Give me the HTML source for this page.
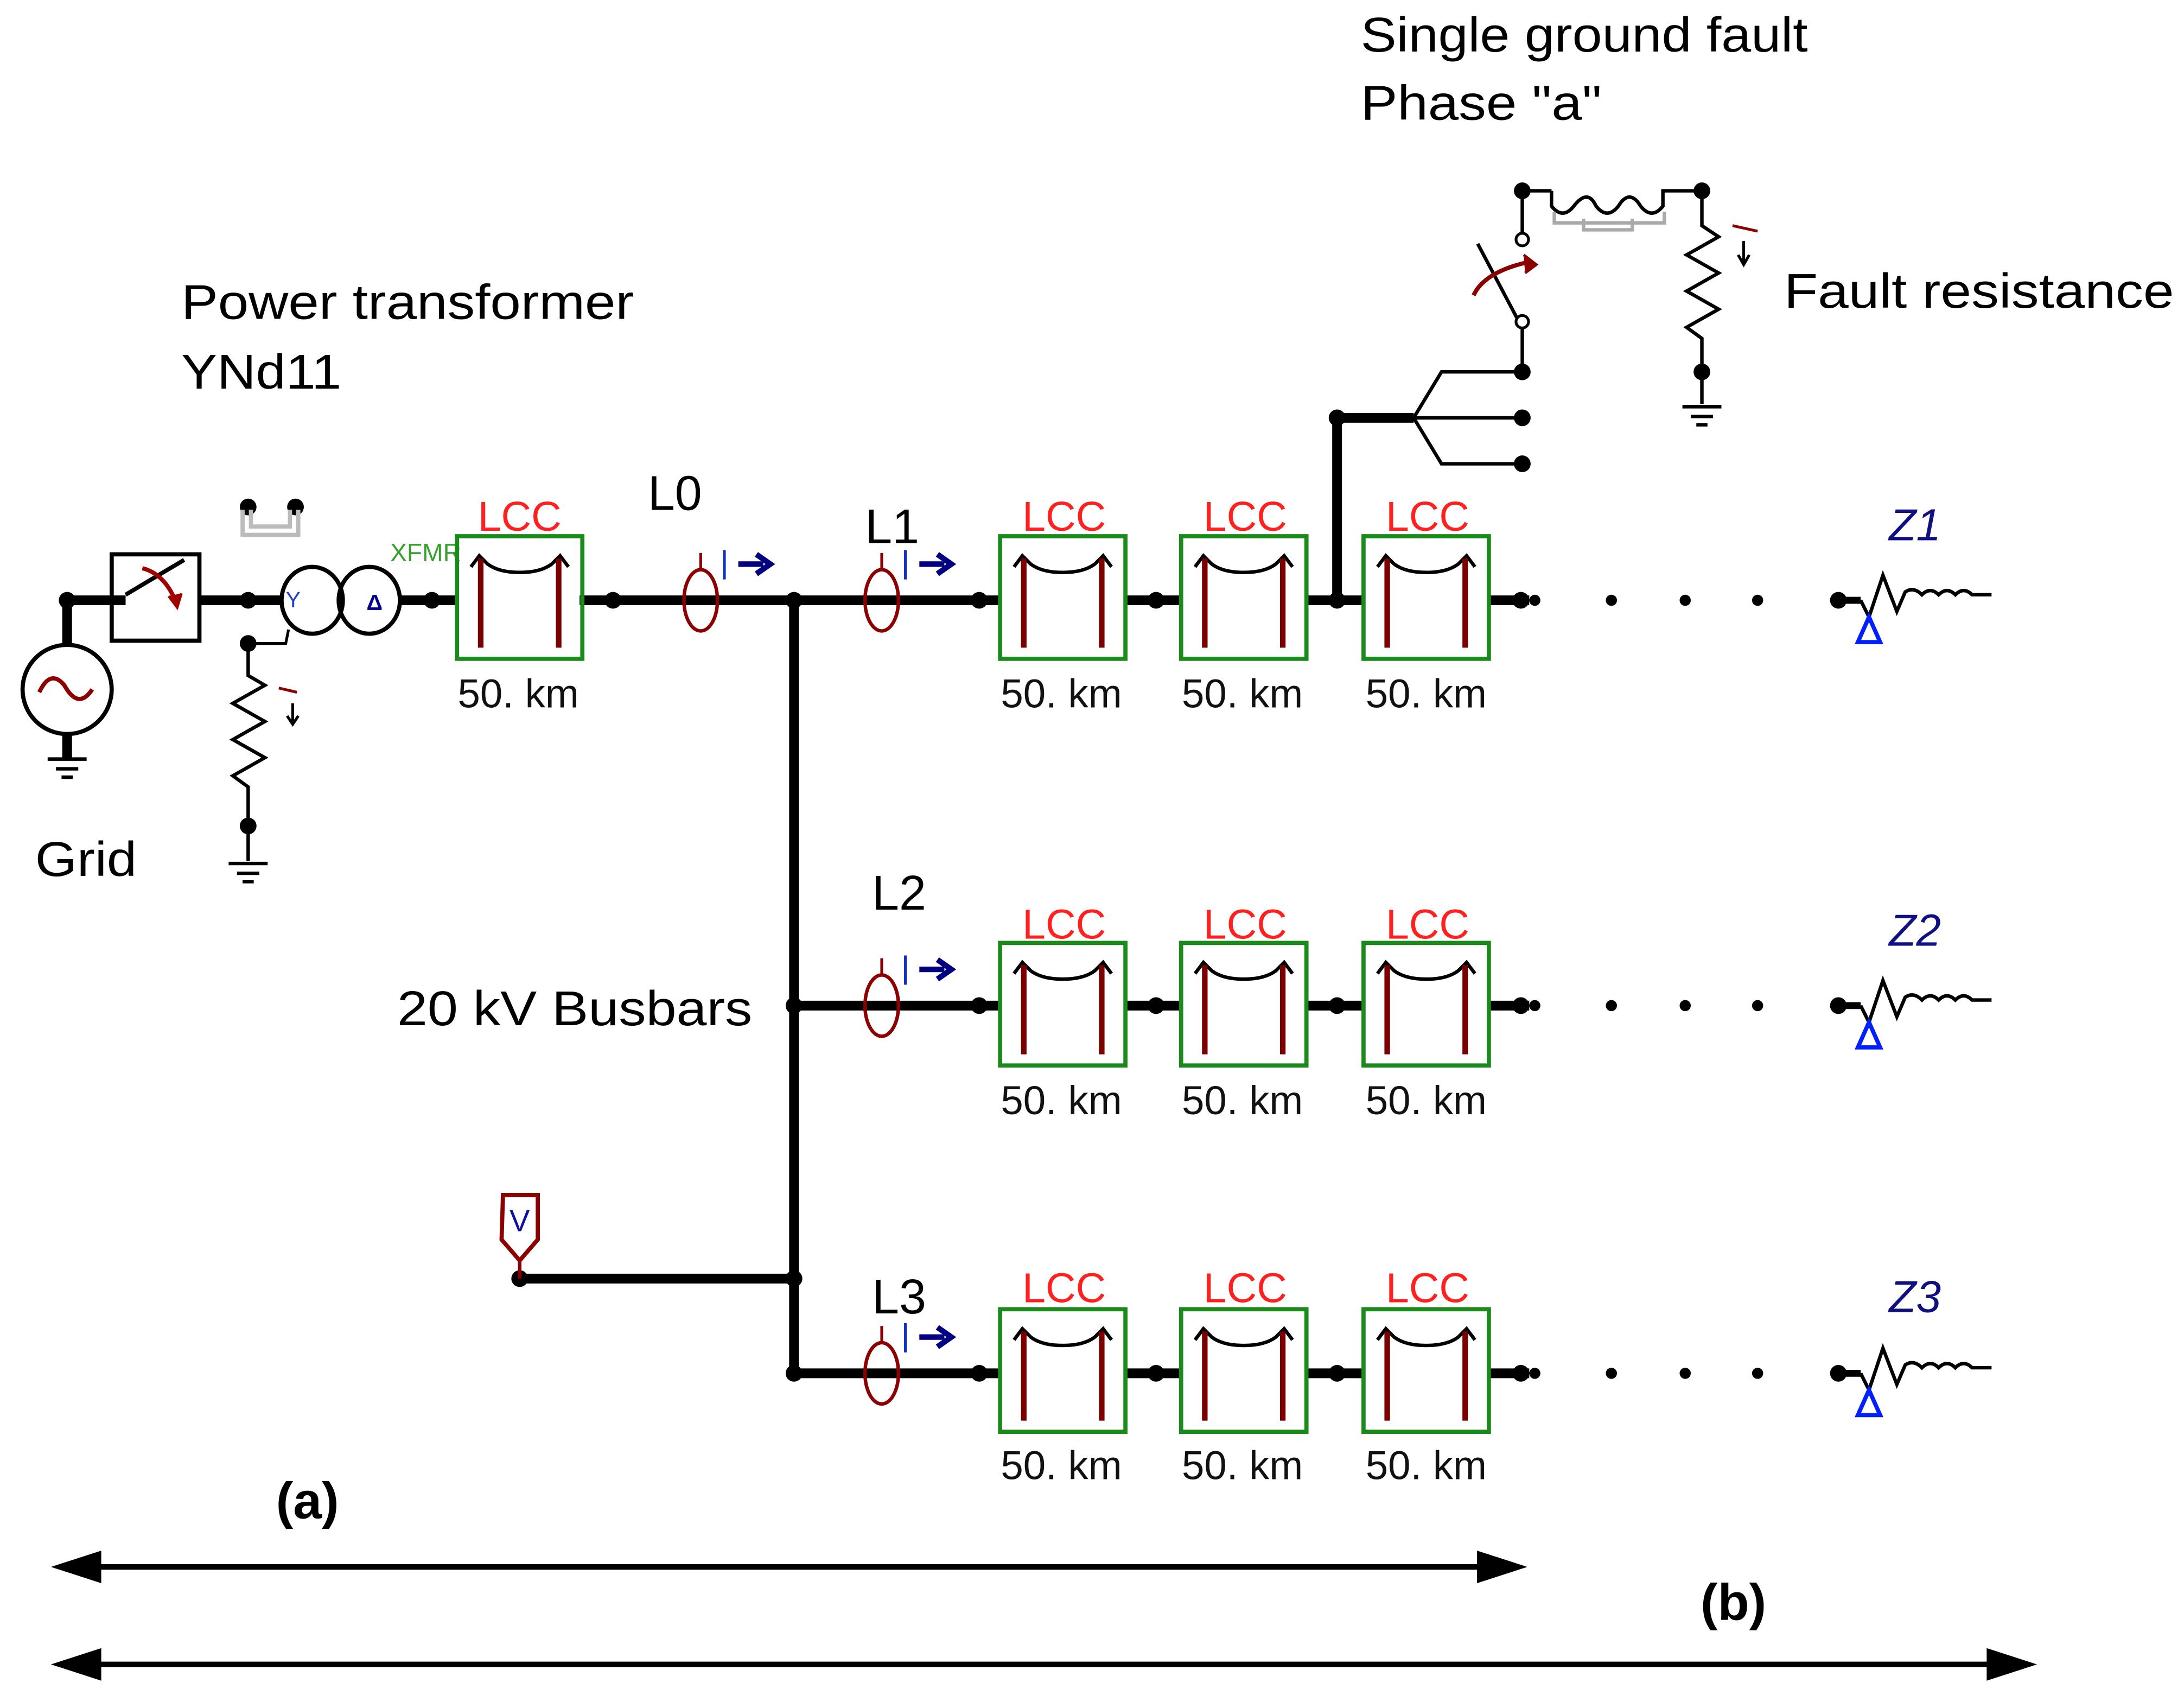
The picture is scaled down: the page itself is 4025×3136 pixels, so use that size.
<!DOCTYPE html>
<html><head><meta charset="utf-8"><style>
html,body{margin:0;padding:0;background:#fff}
svg{display:block}
text{font-family:"Liberation Sans",Arial,sans-serif}
</style></head><body>
<svg width="4025" height="3136" viewBox="0 0 1568 1222" xmlns="http://www.w3.org/2000/svg">
<defs>
<g id="lcc">
<rect x="0" y="0" width="90" height="88" fill="none" stroke="#1a8a1a" stroke-width="3"/>
<path d="M10 22 L16 14 L22 20 Q30 26 45 26 Q60 26 68 20 L74 14 L80 22" fill="none" stroke="#000" stroke-width="2.5"/>
<line x1="17" y1="16" x2="17" y2="80" stroke="#7a0000" stroke-width="4"/>
<line x1="73" y1="16" x2="73" y2="80" stroke="#7a0000" stroke-width="4"/>
</g>
<g id="ct">
<ellipse cx="0" cy="0" rx="12" ry="22" fill="none" stroke="#8b0000" stroke-width="2.5"/>
<line x1="0" y1="-22" x2="0" y2="-34" stroke="#8b0000" stroke-width="2"/>
<line x1="17" y1="-36" x2="17" y2="-15" stroke="#1030c0" stroke-width="2"/>
<line x1="27" y1="-26" x2="45" y2="-26" stroke="#000080" stroke-width="4"/>
<path d="M40 -33 L50 -26 L40 -19" fill="none" stroke="#000080" stroke-width="4"/>
</g>
<g id="load">
<circle cx="0" cy="0" r="6" fill="#000"/>
<line x1="0" y1="0" x2="16" y2="0" stroke="#000" stroke-width="5"/>
<path d="M16 0 L22 12 L32 -18 L42 8 L48 -6 Q54 -10 60 -4 Q66 -10 72 -4 Q78 -10 84 -4 Q90 -10 96 -4 L110 -4" fill="none" stroke="#000" stroke-width="2.5"/>
<path d="M22 12 L14 30 L30 30 Z" fill="none" stroke="#0020ff" stroke-width="3"/>
</g>
<g id="gnd">
<line x1="-14" y1="0" x2="14" y2="0" stroke="#000" stroke-width="2.5"/>
<line x1="-8" y1="7" x2="8" y2="7" stroke="#000" stroke-width="2.5"/>
<line x1="-4" y1="13" x2="4" y2="13" stroke="#000" stroke-width="2.5"/>
</g>
</defs>

<!-- texts -->
<g font-size="35" fill="#000" lengthAdjust="spacingAndGlyphs">
<text x="977" y="37" textLength="321" lengthAdjust="spacingAndGlyphs">Single ground fault</text>
<text x="977" y="86" textLength="173" lengthAdjust="spacingAndGlyphs">Phase "a"</text>
<text x="130" y="229" textLength="325" lengthAdjust="spacingAndGlyphs">Power transformer</text>
<text x="130" y="279" textLength="115" lengthAdjust="spacingAndGlyphs">YNd11</text>
<text x="1281" y="221" textLength="280" lengthAdjust="spacingAndGlyphs">Fault resistance</text>
<text x="25" y="629" textLength="73" lengthAdjust="spacingAndGlyphs">Grid</text>
<text x="285" y="736" textLength="255" lengthAdjust="spacingAndGlyphs">20 kV Busbars</text>
<text x="465" y="366">L0</text>
<text x="621" y="390">L1</text>
<text x="626" y="653">L2</text>
<text x="626" y="943">L3</text>
</g>
<g font-size="37" font-weight="bold" fill="#000">
<text x="198" y="1090">(a)</text>
<text x="1221" y="1163">(b)</text>
</g>

<!-- main wires -->
<g stroke="#000" stroke-width="7" fill="none">
<line x1="48" y1="431" x2="80" y2="431"/>
<line x1="48" y1="431" x2="48" y2="462"/>
<line x1="143" y1="431" x2="203" y2="431"/>
<line x1="287" y1="431" x2="328" y2="431"/>
<line x1="416" y1="431" x2="717" y2="431"/>
<line x1="570" y1="431" x2="570" y2="986"/>
<line x1="570" y1="722" x2="717" y2="722"/>
<line x1="570" y1="986" x2="717" y2="986"/>
<line x1="373" y1="918" x2="570" y2="918"/>
<line x1="808" y1="431" x2="847" y2="431"/><line x1="938" y1="431" x2="978" y2="431"/><line x1="1069" y1="431" x2="1098" y2="431"/>
<line x1="808" y1="722" x2="847" y2="722"/><line x1="938" y1="722" x2="978" y2="722"/><line x1="1069" y1="722" x2="1098" y2="722"/>
<line x1="808" y1="986" x2="847" y2="986"/><line x1="938" y1="986" x2="978" y2="986"/><line x1="1069" y1="986" x2="1098" y2="986"/>
<line x1="960" y1="431" x2="960" y2="300"/>
<line x1="960" y1="300" x2="1015" y2="300"/>
<line x1="48" y1="527" x2="48" y2="545"/>
</g>
<g fill="#000">
<circle cx="48" cy="431" r="6"/><circle cx="178" cy="431" r="6"/><circle cx="310" cy="431" r="6"/><circle cx="440" cy="431" r="6"/>
<circle cx="570" cy="431" r="6"/><circle cx="570" cy="722" r="6"/><circle cx="570" cy="918" r="6"/><circle cx="570" cy="986" r="6"/>
<circle cx="373" cy="918" r="6"/>
<circle cx="703" cy="431" r="6"/><circle cx="830" cy="431" r="6"/><circle cx="960" cy="431" r="6"/><circle cx="1092" cy="431" r="6"/><circle cx="1102" cy="431" r="4"/>
<circle cx="703" cy="722" r="6"/><circle cx="830" cy="722" r="6"/><circle cx="960" cy="722" r="6"/><circle cx="1092" cy="722" r="6"/><circle cx="1102" cy="722" r="4"/>
<circle cx="703" cy="986" r="6"/><circle cx="830" cy="986" r="6"/><circle cx="960" cy="986" r="6"/><circle cx="1092" cy="986" r="6"/><circle cx="1102" cy="986" r="4"/>
<circle cx="1157" cy="431" r="4"/><circle cx="1210" cy="431" r="4"/><circle cx="1262" cy="431" r="4"/>
<circle cx="1157" cy="722" r="4"/><circle cx="1210" cy="722" r="4"/><circle cx="1262" cy="722" r="4"/>
<circle cx="1157" cy="986" r="4"/><circle cx="1210" cy="986" r="4"/><circle cx="1262" cy="986" r="4"/>
<circle cx="960" cy="300" r="6"/>
<circle cx="1093" cy="267" r="6"/><circle cx="1093" cy="300" r="6"/><circle cx="1093" cy="333" r="6"/>
<circle cx="1093" cy="137" r="6"/><circle cx="1222" cy="137" r="6"/><circle cx="1222" cy="267" r="6"/>
<circle cx="178" cy="462" r="6"/><circle cx="178" cy="593" r="6"/>
<circle cx="178" cy="364" r="6"/><circle cx="212" cy="364" r="6"/>
</g>

<!-- grid source -->
<ellipse cx="48" cy="495" rx="32" ry="32" fill="#fff" stroke="#000" stroke-width="3"/>
<path d="M28 497 Q36 480 46 492 Q56 510 66 495" fill="none" stroke="#8b0000" stroke-width="3"/>
<use href="#gnd" x="48" y="545"/>
<!-- breaker -->
<rect x="80" y="398" width="63" height="62" fill="#fff" stroke="#000" stroke-width="3"/>
<line x1="80" y1="431" x2="90" y2="431" stroke="#000" stroke-width="7"/>
<line x1="90" y1="427" x2="132" y2="402" stroke="#000" stroke-width="3"/>
<path d="M102 408 Q118 412 126 432" fill="none" stroke="#a00000" stroke-width="3"/>
<path d="M121 428 L127 436 L130 426" fill="#a00000" stroke="#a00000" stroke-width="2"/>
<!-- gray jumper -->
<path d="M174 366 L174 384 L214 384 L214 366 M180 366 L180 378 L208 378 L208 366" fill="none" stroke="#bbb" stroke-width="3"/>
<!-- transformer -->
<ellipse cx="224" cy="431" rx="22" ry="24" fill="none" stroke="#000" stroke-width="3"/>
<ellipse cx="265" cy="431" rx="22" ry="24" fill="none" stroke="#000" stroke-width="3"/>
<text x="205" y="436" font-size="16" fill="#2040c0">Y</text>
<text x="263" y="438" font-size="16" font-weight="bold" fill="#000090">Δ</text>
<text x="280" y="403" font-size="18" fill="#3aa030">XFMR</text>
<path d="M207 452 L205 462 L178 462" fill="none" stroke="#000" stroke-width="2"/>
<path d="M178 462 L178 485 L190 492 L167 505 L190 518 L167 531 L190 544 L167 557 L178 565 L178 618" fill="none" stroke="#000" stroke-width="2.5"/>
<use href="#gnd" x="178" y="620"/>
<line x1="200" y1="494" x2="213" y2="497" stroke="#8b0000" stroke-width="2"/>
<path d="M210 505 L210 518 M206 514 L210 520 L214 514" stroke="#000" stroke-width="2" fill="none"/>

<!-- LCC blocks -->
<use href="#lcc" x="328" y="385"/>
<use href="#lcc" x="718" y="385"/><use href="#lcc" x="848" y="385"/><use href="#lcc" x="979" y="385"/>
<use href="#lcc" x="718" y="677"/><use href="#lcc" x="848" y="677"/><use href="#lcc" x="979" y="677"/>
<use href="#lcc" x="718" y="940"/><use href="#lcc" x="848" y="940"/><use href="#lcc" x="979" y="940"/>
<g font-size="30" fill="#ff2020" text-anchor="middle">
<text x="373" y="381">LCC</text>
<text x="764" y="381">LCC</text><text x="894" y="381">LCC</text><text x="1025" y="381">LCC</text>
<text x="764" y="674">LCC</text><text x="894" y="674">LCC</text><text x="1025" y="674">LCC</text>
<text x="764" y="935">LCC</text><text x="894" y="935">LCC</text><text x="1025" y="935">LCC</text>
</g>
<g font-size="29" fill="#111" text-anchor="middle">
<text x="372" y="508">50. km</text>
<text x="762" y="508">50. km</text><text x="892" y="508">50. km</text><text x="1024" y="508">50. km</text>
<text x="762" y="800">50. km</text><text x="892" y="800">50. km</text><text x="1024" y="800">50. km</text>
<text x="762" y="1062">50. km</text><text x="892" y="1062">50. km</text><text x="1024" y="1062">50. km</text>
</g>

<!-- CTs -->
<use href="#ct" x="503" y="431"/>
<use href="#ct" x="633" y="431"/>
<use href="#ct" x="633" y="722"/>
<use href="#ct" x="633" y="986"/>

<!-- V meter -->
<path d="M361 858 L386 858 L386 890 L373 905 L360 890 Z" fill="#fff" stroke="#8b0000" stroke-width="3"/>
<line x1="373" y1="905" x2="373" y2="918" stroke="#8b0000" stroke-width="2.5"/>
<text x="373" y="884" font-size="22" fill="#1010a0" text-anchor="middle">V</text>

<!-- loads -->
<use href="#load" x="1320" y="431"/>
<use href="#load" x="1320" y="722"/>
<use href="#load" x="1320" y="986"/>
<g font-size="32" font-style="italic" fill="#101080" text-anchor="middle">
<text x="1375" y="388">Z1</text><text x="1375" y="679">Z2</text><text x="1375" y="942">Z3</text>
</g>

<!-- fault branch -->
<g stroke="#000" stroke-width="2.5" fill="none">
<path d="M1015 300 L1035 267 L1093 267"/>
<path d="M1015 300 L1093 300"/>
<path d="M1015 300 L1035 333 L1093 333"/>
<line x1="1093" y1="267" x2="1093" y2="236"/>
<line x1="1093" y1="137" x2="1093" y2="168"/>
<line x1="1089" y1="228" x2="1061" y2="175"/>
<line x1="1093" y1="137" x2="1114" y2="137"/>
<path d="M1114 137 L1114 148 Q1122 158 1130 148 Q1140 135 1146 148 Q1154 158 1162 148 Q1170 135 1178 148 Q1186 158 1194 148 L1194 137 L1222 137"/>
<path d="M1222 137 L1222 162 L1234 170 L1211 183 L1234 196 L1211 209 L1234 222 L1211 235 L1222 243 L1222 290"/>
</g>
<circle cx="1093" cy="172" r="4.5" fill="#fff" stroke="#000" stroke-width="2"/>
<circle cx="1093" cy="231" r="4.5" fill="#fff" stroke="#000" stroke-width="2"/>
<path d="M1058 212 Q1066 195 1098 188" fill="none" stroke="#8b0000" stroke-width="3"/>
<path d="M1094 183 L1103 190 L1095 196" fill="#8b0000" stroke="#8b0000" stroke-width="2"/>
<path d="M1116 152 L1116 160 L1195 160 L1195 152 M1137 157 L1137 165 L1172 165 L1172 157" fill="none" stroke="#aaa" stroke-width="2.5"/>
<use href="#gnd" x="1222" y="292"/>
<line x1="1244" y1="162" x2="1262" y2="166" stroke="#8b0000" stroke-width="2"/>
<path d="M1252 173 L1252 188 M1248 183 L1252 190 L1256 183" stroke="#000" stroke-width="2" fill="none"/>

<!-- double arrows -->
<g stroke="#000" stroke-width="4" fill="#000">
<line x1="50" y1="1125" x2="1082" y2="1125"/>
<path d="M38 1125 L72 1114 L72 1136 Z" stroke-width="1"/>
<path d="M1095 1125 L1061 1114 L1061 1136 Z" stroke-width="1"/>
<line x1="50" y1="1195" x2="1448" y2="1195"/>
<path d="M38 1195 L72 1184 L72 1206 Z" stroke-width="1"/>
<path d="M1461 1195 L1427 1184 L1427 1206 Z" stroke-width="1"/>
</g>
</svg>
</body></html>
